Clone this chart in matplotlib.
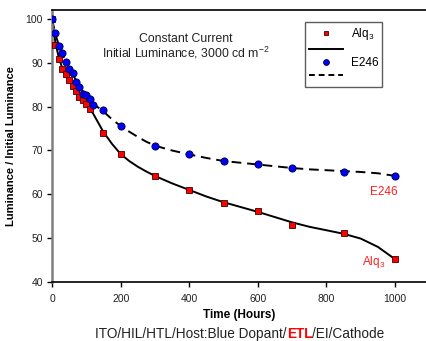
import matplotlib
matplotlib.use("Agg")
import matplotlib.pyplot as plt
from matplotlib.lines import Line2D

matplotlib.rcParams["font.family"] = ["Liberation Sans", "DejaVu Sans"]
matplotlib.rcParams["mathtext.fontset"] = "custom"
matplotlib.rcParams["mathtext.rm"] = "Liberation Sans"
matplotlib.rcParams["mathtext.it"] = "Liberation Sans:italic"
matplotlib.rcParams["mathtext.bf"] = "Liberation Sans:bold"

# measured points
hours_alq = [0, 10, 20, 30, 40, 50, 60, 70, 80, 90, 100, 110, 150,
             200, 300, 400, 500, 600, 700, 850, 1000]
lum_alq = [100, 94.1, 90.8, 88.6, 87.5, 86.1, 84.7, 83.6, 82.2, 81.6, 80.7, 79.5, 74.0,
           69.1, 64.2, 61.1, 58.1, 56.2, 53.1, 51.1, 45.2]

hours_e246 = [0, 10, 20, 30, 40, 50, 60, 70, 80, 90, 100, 110, 120, 150,
              200, 300, 400, 500, 600, 700, 850, 1000]
lum_e246 = [100, 96.7, 93.8, 92.2, 90.1, 88.7, 87.6, 85.6, 84.4, 83.0, 82.6, 81.8, 80.4, 79.2,
            75.6, 71.1, 69.1, 67.6, 66.9, 66.1, 65.1, 64.2]

# fitted curves
fit_x = [0, 10, 20, 30, 40, 50, 60, 70, 80, 90, 100, 110, 120, 135, 150, 175, 200, 225,
         250, 275, 300, 350, 400, 450, 500, 550, 600, 650, 700, 750, 800, 850, 900, 950, 1000]
fit_alq = [100, 94.6, 91.1, 88.8, 87.3, 86.0, 84.8, 83.6, 82.4, 81.4, 80.5, 79.5, 78.4, 76.3,
           74.2, 71.5, 69.2, 67.6, 66.3, 65.2, 64.2, 62.5, 61.0, 59.5, 58.2, 57.1, 56.0, 54.8,
           53.6, 52.6, 51.8, 51.0, 49.9, 48.0, 45.2]
fit_e246 = [100, 96.5, 94.0, 92.0, 90.3, 88.8, 87.5, 86.0, 84.7, 83.5, 82.5, 81.5, 80.6, 79.8,
            78.9, 77.1, 75.6, 74.3, 73.1, 72.0, 71.1, 70.0, 69.1, 68.3, 67.6, 67.2, 66.8, 66.4,
            66.0, 65.7, 65.5, 65.3, 65.1, 64.8, 64.2]

xticks = [0, 200, 400, 600, 800, 1000]
yticks = [40, 50, 60, 70, 80, 90, 100]

fig = plt.figure(figsize=(4.27, 3.41), dpi=100)
ax = fig.add_axes([0.1218, 0.1730, 0.8782, 0.7977])

ax.plot(fit_x, fit_alq, color="black", lw=1.4, zorder=2)
ax.plot(fit_x, fit_e246, color="black", lw=1.4, ls=(0, (5, 3)), zorder=2)
ax.plot(hours_alq, lum_alq, ls="none", marker="s", ms=4.3, mfc="#ff0000",
        mec="#400000", mew=0.6, zorder=3)
ax.plot(hours_e246, lum_e246, ls="none", marker="o", ms=5.2, mfc="#0000ff",
        mec="#000040", mew=0.6, zorder=4)

ax.set_xlim(0, 1093)
ax.set_ylim(40, 102.05)
ax.set_xticks(xticks)
ax.set_yticks(yticks)
ax.tick_params(axis="both", labelsize=7.5, length=3.5, width=1, pad=3,
               direction="out", colors="black", labelcolor="#222222")
ax.tick_params(axis="x", pad=5)

ax.spines["right"].set_visible(False)
ax.spines["left"].set_color("#808080")
ax.spines["left"].set_linewidth(1.8)
ax.spines["bottom"].set_linewidth(1.2)
ax.spines["top"].set_linewidth(1.2)

ax.set_xlabel("Time (Hours)", fontsize=8.5, fontweight="bold", labelpad=4)
ax.set_ylabel("Luminance / Initial Luminance", fontsize=8, fontweight="bold", labelpad=7)

ax.text(0.356, 0.882, "Constant Current", transform=ax.transAxes,
        ha="center", va="baseline", fontsize=8.8, color="#222222")
ax.text(0.356, 0.825, r"Initial Luminance, 3000 cd m$^{-2}$", transform=ax.transAxes,
        ha="center", va="baseline", fontsize=8.8, color="#222222")

ax.text(1006, 59.9, "E246", color="#ff2020", fontsize=8.5, ha="right", va="baseline")
ax.text(973, 43.9, r"Alq$_3$", color="#ff2020", fontsize=8.5, ha="right", va="baseline")

handles = [
    Line2D([], [], ls="none", marker="s", ms=3.5, mfc="#ff0000", mec="#400000", mew=0.6),
    Line2D([], [], color="black", lw=1.4),
    Line2D([], [], ls="none", marker="o", ms=4.2, mfc="#0000ff", mec="#000040", mew=0.6),
    Line2D([], [], color="black", lw=1.4, ls=(0, (3, 2))),
]
labels = [r"Alq$_3$", " ", "E246", " "]
leg = ax.legend(handles, labels, loc="upper left", bbox_to_anchor=(0.675, 0.955),
                fontsize=8.5, frameon=True, fancybox=False, handlelength=2.9,
                handletextpad=0.6, labelspacing=0.12, borderpad=0.35, borderaxespad=0)
leg.get_frame().set_edgecolor("#333333")
leg.get_frame().set_linewidth(1.0)

# caption with red "ETL"
parts = [("ITO/HIL/HTL/Host:Blue Dopant/", "#222222", "normal"),
         ("ETL", "#ff0000", "bold"),
         ("/EI/Cathode", "#222222", "normal")]
texts = [fig.text(0, 0.009, s, color=c, fontweight=w, fontsize=9.8, va="baseline")
         for s, c, w in parts]
fig.canvas.draw()
r = fig.canvas.get_renderer()
widths = [t.get_window_extent(r).width for t in texts]
x0 = 240 - sum(widths) / 2
for t, w in zip(texts, widths):
    t.set_x(x0 / 427)
    x0 += w

fig.savefig("out.png", dpi=100)
